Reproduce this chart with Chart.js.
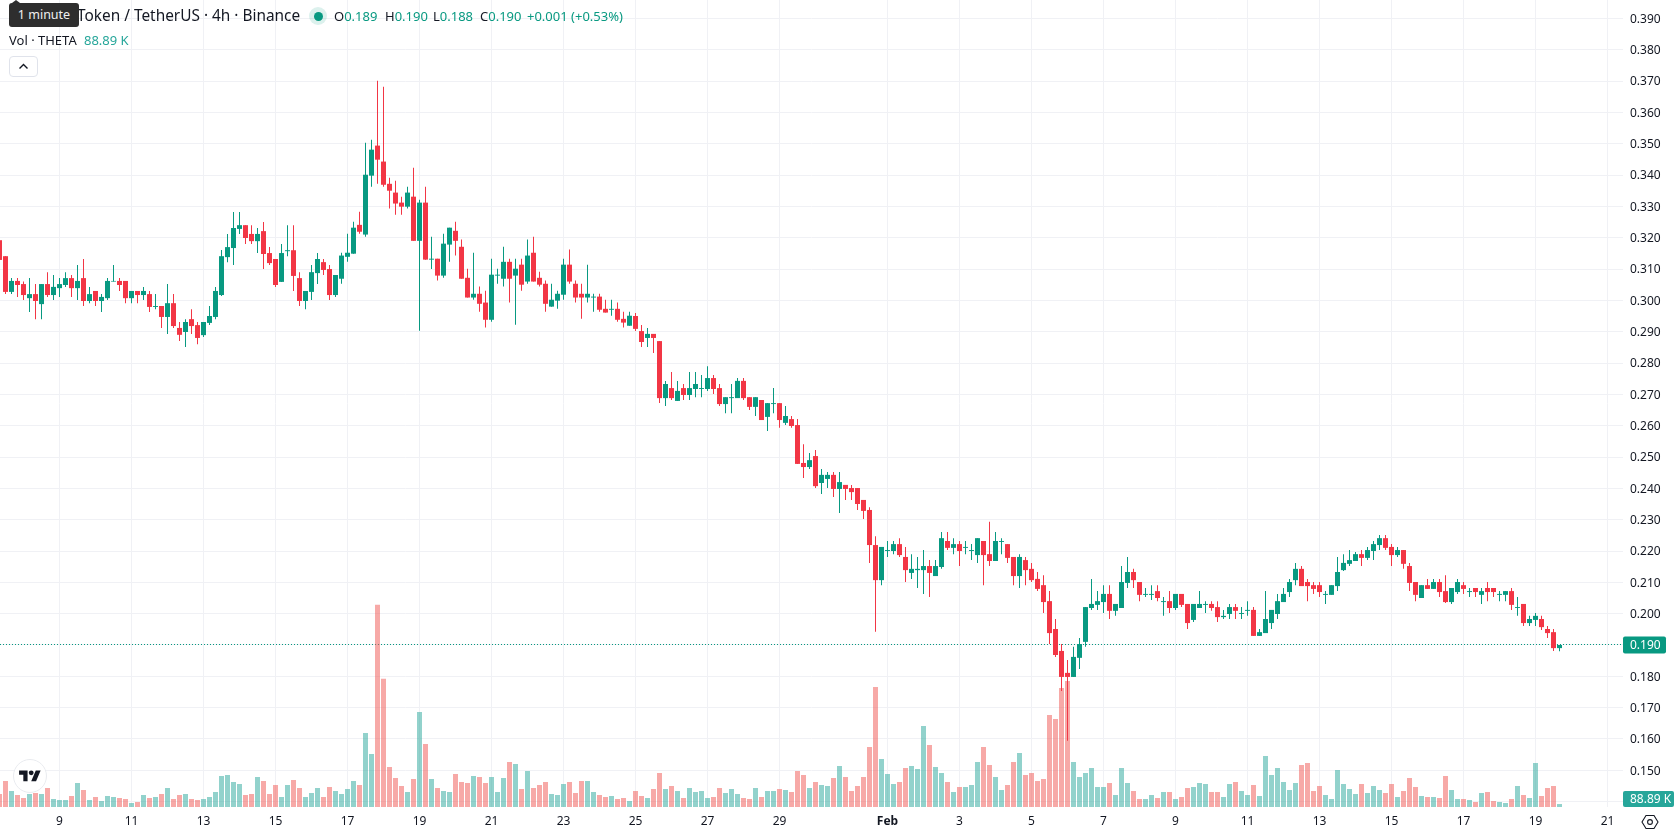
<!DOCTYPE html>
<html>
<head>
<meta charset="utf-8">
<title>Theta Token / TetherUS</title>
<script src="https://cdn.jsdelivr.net/npm/chart.js@4"></script>
<style>
    html, body { margin: 0; padding: 0; background: #fff; }
    body { width: 1678px; height: 835px; position: relative; overflow: hidden; font-family: "Noto Sans", sans-serif; color: #131722; }
    canvas { position: absolute; left: 0; top: 0; }
    .abs { position: absolute; white-space: nowrap; }
    .up { color: #089981; }
    .legend { font-size: 13px; line-height: 18px; top: 7px; }
</style>
</head>
<body>
<canvas id="grafico" width="1678" height="835"></canvas>

<div class="abs" style="left:77px; top:5px; font-size:15.4px; line-height:21px;">Token / TetherUS · 4h · Binance</div>
<div class="abs" style="left:309px; top:7px; width:18px; height:18px; border-radius:50%; background:rgba(8,153,129,.14);"></div>
<div class="abs" style="left:313.5px; top:11.5px; width:9px; height:9px; border-radius:50%; background:#089981;"></div>
<div class="abs legend" style="left:334px;">O<span class="up">0.189</span></div>
<div class="abs legend" style="left:385px;">H<span class="up">0.190</span></div>
<div class="abs legend" style="left:433px;">L<span class="up">0.188</span></div>
<div class="abs legend" style="left:480px;">C<span class="up">0.190</span></div>
<div class="abs legend up" style="left:527px;">+0.001 (+0.53%)</div>
<div class="abs" style="left:9px; top:31px; font-size:13px; line-height:18px;">Vol · THETA</div>
<div class="abs" style="left:84px; top:31px; font-size:13px; line-height:18px; color:#26a69a;">88.89 K</div>

<div class="abs" style="left:8.5px; top:55.5px; width:27px; height:19px; border:1px solid #e0e3eb; border-radius:4px; background:#fff;">
    <svg width="27" height="19" style="display:block"><path d="M9.5 11.5 L13.5 7.5 L17.5 11.5" fill="none" stroke="#131722" stroke-width="1.4"/></svg>
</div>

<div class="abs" style="left:12px; top:0; width:0; height:0; border-left:4px solid transparent; border-right:4px solid transparent; border-bottom:3px solid #2e2e2e;"></div>
<div class="abs" style="left:9px; top:3px; width:70px; height:24px; background:#2e2e2e; border-radius:3px; color:#f0f0f0; font-size:12.5px; line-height:24px; text-align:center;">1 minute</div>

<div class="abs" style="left:13px; top:759px; width:32px; height:32px; border-radius:50%; background:#fff; border:1px solid #e9ebef;">
    <svg width="22" height="17" viewBox="0 0 36 28" style="position:absolute; left:5px; top:8px;">
        <path d="M14 22H7V11H0V4h14v18zM28 22h-8l7.5-18h8L28 22z" fill="#131722"/><circle cx="20" cy="8" r="4" fill="#131722"/>
    </svg>
</div>

<svg class="abs" style="left:1641px; top:813px;" width="18" height="18">
    <path d="M5 2.5 H13 L17 9 L13 15.5 H5 L1 9 Z" fill="none" stroke="#131722" stroke-width="1.1"/>
    <circle cx="9" cy="9" r="2.4" fill="none" stroke="#131722" stroke-width="1.1"/>
</svg>

<script>
// velas de 4h, de la mas antigua a la mas reciente
const opens = [
    0.3192,0.3141,0.3027,0.3062,0.3052,0.3007,0.3020,0.2988,0.3052,0.3017,
    0.3039,0.3049,0.3071,0.3039,0.3071,0.2998,0.3030,0.2998,0.3007,0.3060,
    0.3062,0.3062,0.3007,0.3030,0.3017,0.3020,0.2979,0.2982,0.2947,0.2991,
    0.2912,0.2899,0.2940,0.2921,0.2889,0.2928,0.2947,0.3017,0.3138,0.3167,
    0.3228,0.3240,0.3212,0.3189,0.3221,0.3151,0.3132,0.3059,0.3157,0.3160,
    0.3071,0.2998,0.3027,0.3087,0.3122,0.3100,0.3017,0.3069,0.3139,0.3149,
    0.3241,0.3210,0.3398,0.3494,0.3443,0.3372,0.3344,0.3312,0.3299,0.3331,
    0.3190,0.3312,0.3130,0.3133,0.3079,0.3178,0.3222,0.3171,0.3072,0.3009,
    0.3021,0.2993,0.2938,0.3079,0.3069,0.3123,0.3079,0.3114,0.3060,0.3152,
    0.3072,0.3053,0.2980,0.2999,0.3018,0.3114,0.3053,0.3021,0.3009,0.3009,
    0.3012,0.2973,0.2970,0.2973,0.2941,0.2919,0.2950,0.2902,0.2880,0.2893,
    0.2870,0.2688,0.2720,0.2679,0.2720,0.2698,0.2717,0.2717,0.2717,0.2752,
    0.2720,0.2669,0.2688,0.2688,0.2743,0.2691,0.2660,0.2682,0.2628,0.2669,
    0.2672,0.2609,0.2621,0.2602,0.2481,0.2468,0.2503,0.2417,0.2430,0.2443,
    0.2398,0.2411,0.2401,0.2401,0.2363,0.2331,0.2219,0.2107,0.2200,0.2200,
    0.2222,0.2181,0.2130,0.2139,0.2139,0.2152,0.2120,0.2149,0.2232,0.2210,
    0.2222,0.2210,0.2200,0.2187,0.2232,0.2190,0.2168,0.2229,0.2222,0.2181,
    0.2120,0.2171,0.2143,0.2111,0.2091,0.2040,0.1951,0.1881,0.1811,0.1798,
    0.1859,0.1910,0.2018,0.2028,0.2037,0.2063,0.2009,0.2018,0.2098,0.2133,
    0.2101,0.2060,0.2060,0.2072,0.2037,0.2040,0.2018,0.2063,0.2031,0.1980,
    0.2018,0.2028,0.2031,0.2021,0.1989,0.1999,0.2021,0.1999,0.2009,0.2012,
    0.1929,0.1938,0.1970,0.1999,0.2037,0.2069,0.2107,0.2143,0.2101,0.2091,
    0.2091,0.2060,0.2060,0.2088,0.2139,0.2159,0.2168,0.2190,0.2178,0.2200,
    0.2219,0.2241,0.2213,0.2187,0.2203,0.2152,0.2101,0.2050,0.2091,0.2079,
    0.2101,0.2072,0.2037,0.2069,0.2091,0.2069,0.2082,0.2060,0.2082,0.2082,
    0.2060,0.2060,0.2072,0.2018,0.2031,0.1970,0.1980,0.1983,0.1951,0.1941,
    0.1890
];
const highs = [
    0.3192,0.3141,0.3071,0.3071,0.3060,0.3071,0.3052,0.3052,0.3090,0.3081,
    0.3071,0.3090,0.3081,0.3113,0.3132,0.3043,0.3030,0.3020,0.3071,0.3113,
    0.3071,0.3062,0.3030,0.3030,0.3043,0.3030,0.3020,0.2982,0.3052,0.3020,
    0.2931,0.2940,0.2972,0.2931,0.2931,0.2982,0.3043,0.3161,0.3212,0.3282,
    0.3282,0.3240,0.3240,0.3231,0.3250,0.3170,0.3132,0.3180,0.3240,0.3240,
    0.3090,0.3030,0.3113,0.3151,0.3132,0.3113,0.3081,0.3152,0.3213,0.3251,
    0.3283,0.3503,0.3513,0.3701,0.3682,0.3391,0.3382,0.3331,0.3363,0.3423,
    0.3321,0.3363,0.3203,0.3133,0.3213,0.3232,0.3251,0.3194,0.3101,0.3152,
    0.3044,0.3031,0.3133,0.3101,0.3171,0.3133,0.3133,0.3133,0.3194,0.3203,
    0.3091,0.3063,0.3053,0.3031,0.3133,0.3162,0.3063,0.3053,0.3114,0.3021,
    0.3021,0.3002,0.3002,0.2993,0.2964,0.2964,0.2960,0.2921,0.2912,0.2893,
    0.2870,0.2743,0.2771,0.2743,0.2733,0.2771,0.2771,0.2762,0.2790,0.2762,
    0.2733,0.2691,0.2733,0.2752,0.2752,0.2691,0.2691,0.2682,0.2672,0.2720,
    0.2672,0.2663,0.2631,0.2621,0.2541,0.2513,0.2522,0.2462,0.2452,0.2452,
    0.2452,0.2411,0.2411,0.2401,0.2363,0.2340,0.2247,0.2213,0.2232,0.2232,
    0.2241,0.2213,0.2190,0.2181,0.2203,0.2171,0.2171,0.2261,0.2261,0.2241,
    0.2232,0.2232,0.2222,0.2241,0.2232,0.2293,0.2261,0.2241,0.2222,0.2181,
    0.2190,0.2181,0.2162,0.2133,0.2123,0.2072,0.1983,0.1903,0.1852,0.1894,
    0.1922,0.2021,0.2111,0.2072,0.2091,0.2091,0.2031,0.2152,0.2181,0.2143,
    0.2101,0.2082,0.2091,0.2091,0.2053,0.2072,0.2063,0.2063,0.2031,0.2031,
    0.2072,0.2040,0.2040,0.2040,0.2012,0.2031,0.2031,0.2021,0.2040,0.2021,
    0.1951,0.2072,0.2012,0.2063,0.2082,0.2111,0.2162,0.2152,0.2111,0.2101,
    0.2101,0.2072,0.2091,0.2181,0.2190,0.2203,0.2197,0.2203,0.2213,0.2232,
    0.2251,0.2251,0.2222,0.2213,0.2203,0.2162,0.2101,0.2091,0.2111,0.2111,
    0.2111,0.2123,0.2082,0.2111,0.2101,0.2082,0.2082,0.2082,0.2101,0.2082,
    0.2072,0.2072,0.2082,0.2053,0.2031,0.1993,0.2002,0.1993,0.1961,0.1951,
    0.1900
];
const lows = [
    0.3125,0.3020,0.3020,0.3011,0.3001,0.2963,0.2940,0.2940,0.3011,0.3001,
    0.3011,0.3043,0.3011,0.3001,0.2982,0.2991,0.2982,0.2963,0.3001,0.3060,
    0.3030,0.2991,0.2991,0.2991,0.3001,0.2963,0.2972,0.2912,0.2893,0.2912,
    0.2870,0.2851,0.2893,0.2860,0.2883,0.2921,0.2940,0.3014,0.3122,0.3113,
    0.3212,0.3180,0.3180,0.3151,0.3100,0.3113,0.3043,0.3059,0.3141,0.3030,
    0.2982,0.2972,0.3001,0.3052,0.3081,0.3001,0.3011,0.3053,0.3123,0.3149,
    0.3213,0.3203,0.3363,0.3372,0.3363,0.3293,0.3273,0.3273,0.3293,0.3190,
    0.2903,0.3130,0.3100,0.3063,0.3072,0.3123,0.3143,0.3069,0.3009,0.3002,
    0.2964,0.2913,0.2932,0.3053,0.3044,0.2993,0.2922,0.3031,0.3053,0.3060,
    0.3044,0.2964,0.2980,0.2973,0.3002,0.3053,0.2993,0.2941,0.2993,0.2964,
    0.2964,0.2961,0.2951,0.2932,0.2913,0.2919,0.2902,0.2851,0.2851,0.2832,
    0.2672,0.2663,0.2682,0.2679,0.2682,0.2682,0.2691,0.2691,0.2711,0.2701,
    0.2663,0.2640,0.2640,0.2688,0.2682,0.2650,0.2631,0.2618,0.2583,0.2640,
    0.2593,0.2602,0.2593,0.2478,0.2433,0.2462,0.2401,0.2382,0.2401,0.2372,
    0.2321,0.2363,0.2363,0.2331,0.2302,0.2162,0.1942,0.2091,0.2181,0.2190,
    0.2181,0.2101,0.2111,0.2082,0.2063,0.2053,0.2120,0.2143,0.2203,0.2190,
    0.2152,0.2190,0.2171,0.2162,0.2091,0.2152,0.2168,0.2190,0.2162,0.2091,
    0.2082,0.2091,0.2101,0.2072,0.2002,0.1903,0.1862,0.1753,0.1594,0.1798,
    0.1823,0.1894,0.2012,0.2012,0.2002,0.1983,0.1993,0.2018,0.2082,0.2082,
    0.2040,0.2053,0.2044,0.2040,0.1993,0.2002,0.2012,0.2021,0.1951,0.1973,
    0.2018,0.2002,0.2009,0.1973,0.1983,0.1983,0.1983,0.1983,0.1993,0.1929,
    0.1929,0.1938,0.1951,0.1983,0.2037,0.2053,0.2091,0.2088,0.2040,0.2063,
    0.2053,0.2031,0.2060,0.2072,0.2136,0.2152,0.2168,0.2152,0.2171,0.2171,
    0.2203,0.2203,0.2152,0.2181,0.2143,0.2072,0.2040,0.2050,0.2079,0.2079,
    0.2053,0.2034,0.2031,0.2063,0.2063,0.2053,0.2053,0.2031,0.2040,0.2053,
    0.2040,0.2040,0.2012,0.1993,0.1961,0.1961,0.1961,0.1948,0.1922,0.1881,
    0.1880
];
const closes = [
    0.3129,0.3027,0.3062,0.3049,0.3017,0.3020,0.2998,0.3052,0.3017,0.3043,
    0.3052,0.3071,0.3039,0.3062,0.2998,0.3020,0.2998,0.3011,0.3062,0.3062,
    0.3049,0.3007,0.3030,0.3017,0.3030,0.2979,0.2982,0.2947,0.2991,0.2918,
    0.2890,0.2931,0.2918,0.2880,0.2931,0.2950,0.3030,0.3141,0.3170,0.3231,
    0.3240,0.3199,0.3189,0.3212,0.3148,0.3119,0.3049,0.3151,0.3160,0.3078,
    0.2998,0.3030,0.3090,0.3132,0.3097,0.3017,0.3081,0.3143,0.3152,0.3232,
    0.3219,0.3401,0.3481,0.3449,0.3369,0.3350,0.3309,0.3299,0.3344,0.3190,
    0.3312,0.3130,0.3133,0.3079,0.3181,0.3232,0.3190,0.3069,0.3009,0.3021,
    0.2989,0.2938,0.3082,0.3082,0.3123,0.3069,0.3101,0.3050,0.3143,0.3060,
    0.3050,0.2989,0.3002,0.3021,0.3114,0.3060,0.3009,0.3009,0.3021,0.3012,
    0.2970,0.2961,0.2973,0.2938,0.2929,0.2951,0.2909,0.2867,0.2893,0.2880,
    0.2688,0.2733,0.2688,0.2711,0.2698,0.2720,0.2733,0.2720,0.2752,0.2717,
    0.2669,0.2691,0.2691,0.2743,0.2688,0.2660,0.2691,0.2618,0.2672,0.2672,
    0.2618,0.2631,0.2599,0.2478,0.2468,0.2490,0.2407,0.2443,0.2443,0.2398,
    0.2420,0.2398,0.2388,0.2350,0.2328,0.2219,0.2107,0.2213,0.2203,0.2222,
    0.2187,0.2139,0.2143,0.2143,0.2152,0.2130,0.2152,0.2241,0.2210,0.2222,
    0.2200,0.2213,0.2203,0.2241,0.2187,0.2168,0.2232,0.2232,0.2178,0.2120,
    0.2181,0.2139,0.2107,0.2079,0.2037,0.1938,0.1868,0.1798,0.1798,0.1862,
    0.1903,0.2021,0.2031,0.2040,0.2063,0.2009,0.2031,0.2101,0.2133,0.2107,
    0.2060,0.2063,0.2063,0.2050,0.2040,0.2018,0.2063,0.2028,0.1970,0.2031,
    0.2031,0.2031,0.2018,0.1989,0.1993,0.2021,0.2009,0.2002,0.2012,0.1929,
    0.1941,0.1983,0.2012,0.2040,0.2063,0.2101,0.2143,0.2088,0.2088,0.2079,
    0.2069,0.2063,0.2091,0.2133,0.2162,0.2171,0.2190,0.2178,0.2203,0.2222,
    0.2241,0.2210,0.2187,0.2203,0.2159,0.2098,0.2060,0.2091,0.2079,0.2101,
    0.2069,0.2037,0.2082,0.2101,0.2079,0.2072,0.2069,0.2072,0.2069,0.2069,
    0.2063,0.2072,0.2028,0.2021,0.1970,0.1983,0.1993,0.1957,0.1938,0.1890,
    0.1900
];
// volumen en miles de THETA
const volumes = [
    390,780,480,360,270,390,420,390,570,240,
    210,210,330,720,510,210,300,180,330,300,
    270,240,120,150,360,270,300,390,570,240,
    360,390,240,210,240,300,450,930,960,750,
    690,360,390,900,780,390,660,300,660,810,
    570,300,420,570,300,600,480,390,540,780,
    660,2220,1590,6070,3850,1200,870,630,450,840,
    2850,1890,840,570,480,450,990,750,720,930,
    900,720,900,450,870,1350,1290,540,1080,570,
    660,750,390,360,690,750,420,780,780,450,
    360,300,330,240,270,180,480,330,270,540,
    1020,540,630,480,270,570,450,480,270,300,
    570,420,540,390,270,240,570,300,480,480,
    540,510,450,1080,960,570,750,660,630,870,
    1230,900,480,630,900,1800,3600,1440,990,690,
    750,1170,1230,1140,2430,1860,1200,1020,750,450,
    600,600,660,1350,1800,1260,900,510,660,1350,
    1620,960,1020,780,840,2760,2640,3570,3780,1350,
    900,1020,1170,600,600,720,360,1170,720,480,
    240,240,360,270,450,450,240,300,570,600,
    720,690,450,450,300,690,750,480,360,660,
    330,1530,960,1170,750,510,720,1260,1320,480,
    630,360,240,1110,690,540,390,690,420,630,
    510,420,690,300,480,870,600,330,300,300,
    270,930,510,240,240,210,150,420,450,180,
    150,120,240,630,360,270,1320,330,570,630,
    88.89
];

// eje de tiempo: numero de vela donde cae cada etiqueta
const dayTickBars = [10,22,34,46,58,70,82,94,106,118,130,148,160,172,184,196,208,220,232,244,256,268];
const dayTickLabels = ['9','11','13','15','17','19','21','23','25','27','29','Feb','3','5','7','9','11','13','15','17','19','21'];
const priceTicks = [0.14,0.15,0.16,0.17,0.18,0.19,0.20,0.21,0.22,0.23,0.24,0.25,0.26,0.27,0.28,0.29,0.30,0.31,0.32,0.33,0.34,0.35,0.36,0.37,0.38,0.39];
const lastPrice = 0.190;
const lastVolumeLabel = '88.89 K';

const UP = '#089981';
const DOWN = '#f23645';
const GRID = '#f0f1f5';
const FONT = '"Noto Sans", sans-serif';

const barIndex = opens.map((_, i) => i);
const isUp = opens.map((o, i) => closes[i] >= o);
const candleColors = isUp.map(up => up ? UP : DOWN);
const volumeColors = isUp.map(up => up ? 'rgba(38,166,154,0.5)' : 'rgba(239,83,80,0.5)');

// linea punteada del ultimo precio y las dos cajas del eje derecho
const priceLabels = {
    id: 'priceLabels',
    beforeDatasetsDraw(chart) {
        const { ctx, chartArea, scales } = chart;
        const y = Math.round(scales.y.getPixelForValue(lastPrice)) - 0.5;
        ctx.save();
        ctx.strokeStyle = UP;
        ctx.lineWidth = 1;
        ctx.setLineDash([1, 2]);
        ctx.beginPath();
        ctx.moveTo(chartArea.left, y);
        ctx.lineTo(chartArea.right, y);
        ctx.stroke();
        ctx.restore();
    },
    afterDatasetsDraw(chart) {
        const { ctx, chartArea, scales } = chart;
        const y = Math.round(scales.y.getPixelForValue(lastPrice)) - 0.5;
        const left = chartArea.right;
        ctx.save();
        ctx.font = '12px ' + FONT;
        ctx.textBaseline = 'middle';
        ctx.fillStyle = UP;
        ctx.beginPath();
        ctx.roundRect(left, y - 8, 43, 17, 2);
        ctx.fill();
        ctx.fillStyle = '#fff';
        ctx.fillText(lastPrice.toFixed(3), left + 7, y + 1);
        ctx.fillStyle = '#26a69a';
        ctx.beginPath();
        ctx.roundRect(left, 791, 51, 16, 2);
        ctx.fill();
        ctx.fillStyle = '#fff';
        ctx.fillText(lastVolumeLabel, left + 7, 799.5);
        ctx.restore();
    }
};

const ctx = document.getElementById('grafico').getContext('2d');
new Chart(ctx, {
    type: 'bar',
    data: {
        datasets: [
            {
                // cuerpo de la vela
                data: barIndex.map(i => ({ x: i, y: [opens[i], closes[i]] })),
                backgroundColor: candleColors,
                yAxisID: 'y',
                grouped: false,
                barPercentage: 1,
                categoryPercentage: 1,
                maxBarThickness: 5,
                inflateAmount: 0,
                order: 1
            },
            {
                // mecha
                data: barIndex.map(i => ({ x: i, y: [lows[i], highs[i]] })),
                backgroundColor: candleColors,
                yAxisID: 'y',
                grouped: false,
                barPercentage: 1,
                categoryPercentage: 1,
                maxBarThickness: 1,
                inflateAmount: 0,
                order: 2
            },
            {
                // volumen
                data: barIndex.map(i => ({ x: i, y: volumes[i] })),
                backgroundColor: volumeColors,
                yAxisID: 'v',
                grouped: false,
                barPercentage: 1,
                categoryPercentage: 1,
                maxBarThickness: 5,
                inflateAmount: 0,
                order: 3
            }
        ]
    },
    options: {
        responsive: false,
        animation: false,
        layout: { padding: 0 },
        plugins: {
            legend: { display: false },
            tooltip: { enabled: false }
        },
        scales: {
            x: {
                type: 'linear',
                offset: false,
                min: 0.08333,
                max: 270.58333,
                border: { display: false },
                grid: { color: GRID, offset: false, drawTicks: false },
                afterBuildTicks: axis => { axis.ticks = dayTickBars.map(value => ({ value })); },
                afterFit: axis => {
                    axis.height = 28;
                    axis.paddingLeft = 0;
                    axis.paddingRight = 0;
                },
                ticks: {
                    autoSkip: false,
                    maxRotation: 0,
                    padding: 7,
                    color: '#131722',
                    font: c => ({ family: FONT, size: 12, weight: c.tick && c.tick.label === 'Feb' ? 'bold' : 'normal' }),
                    callback: (value, i) => dayTickLabels[i]
                }
            },
            y: {
                position: 'right',
                beginAtZero: false,
                min: 0.13829,
                max: 0.39587,
                border: { display: false },
                grid: { color: GRID, drawTicks: false },
                afterBuildTicks: axis => { axis.ticks = priceTicks.map(value => ({ value })); },
                afterFit: axis => {
                    axis.width = 55;
                    axis.paddingTop = 0;
                    axis.paddingBottom = 0;
                },
                ticks: {
                    padding: 7,
                    labelOffset: 1,
                    color: '#131722',
                    crossAlign: 'near',
                    font: { family: FONT, size: 12 },
                    callback: value => value.toFixed(3)
                }
            },
            v: {
                display: false,
                min: 0,
                max: 24210
            }
        }
    },
    plugins: [priceLabels]
});
</script>
</body>
</html>
